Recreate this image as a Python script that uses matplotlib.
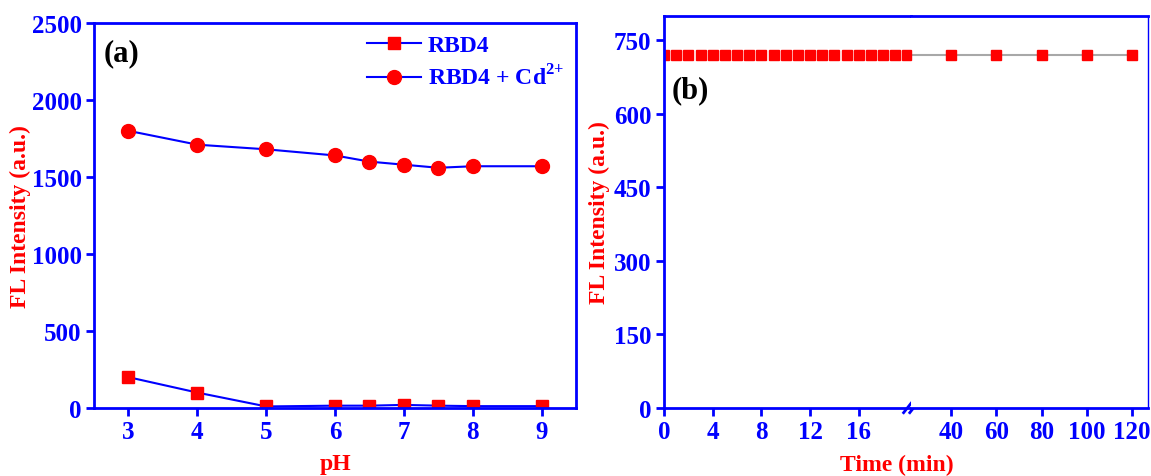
import numpy as np
import matplotlib.pyplot as plt

plt.rcParams['font.family'] = ['Liberation Serif', 'DejaVu Serif']
plt.rcParams['font.weight'] = 'bold'
plt.rcParams['mathtext.fontset'] = 'custom'
plt.rcParams['mathtext.rm'] = 'Liberation Serif:bold'
plt.rcParams['mathtext.bf'] = 'Liberation Serif:bold'

# panel (a) data
ph = [3, 4, 5, 6, 6.5, 7, 7.5, 8, 9]
rbd4 = [200, 100, 10, 15, 15, 20, 15, 12, 12]
rbd4_cd = [1800, 1710, 1680, 1640, 1600, 1580, 1560, 1570, 1570]

# panel (b) data
t_short = list(range(0, 21))
fl_short = [720] * 21
t_long = [20, 40, 60, 80, 100, 120]
fl_long = [720, 720, 720, 720, 720, 720]

yticks_a = [0, 500, 1000, 1500, 2000, 2500]
yticks_b = [0, 150, 300, 450, 600, 750]
xticks_b1 = [0, 4, 8, 12, 16]
xticks_b2 = [40, 60, 80, 100, 120]

BLUE = '#0000ff'
RED = '#ff0000'
FS = 18
LFS = 17


def style(ax):
    for s in ax.spines.values():
        s.set_color(BLUE)
        s.set_linewidth(2)
    ax.tick_params(axis='both', colors=BLUE, direction='out', length=6, width=2,
                   labelsize=FS, top=False, right=False, pad=3)
    for lab in ax.get_xticklabels() + ax.get_yticklabels():
        lab.set_fontweight('bold')


fig = plt.figure(figsize=(11.51, 4.77), dpi=100)

# ---- (a)
ax = fig.add_axes([0.0817, 0.1426, 0.4188, 0.807])
ax.plot(ph, rbd4, color=BLUE, lw=1.5, marker='s', ms=8, mfc=RED, mec=RED, label='RBD4')
ax.plot(ph, rbd4_cd, color=BLUE, lw=1.5, marker='o', ms=10, mfc=RED, mec=RED,
        label='RBD4 + Cd$^{2{+}}$')
ax.set_xlim(2.5, 9.5)
ax.set_ylim(0, 2500)
ax.set_xticks([3, 4, 5, 6, 7, 8, 9])
ax.set_yticks(yticks_a)
style(ax)
ax.set_xlabel('pH', color=RED, fontsize=LFS, fontweight='bold', labelpad=7)
ax.set_ylabel('FL Intensity (a.u.)', color=RED, fontsize=LFS, fontweight='bold')
ax.yaxis.set_label_coords(-0.131, 0.5)
ax.text(0.02, 0.96, '(a)', transform=ax.transAxes, fontsize=22, fontweight='bold',
        va='top', ha='left', color='black')
leg = ax.legend(loc='upper right', frameon=False, fontsize=17, handlelength=2.3,
                borderaxespad=0.1, labelspacing=0.35, handletextpad=0.3)
for txt in leg.get_texts():
    txt.set_color(BLUE)

# ---- (b) broken x axis
b1 = fig.add_axes([0.5769, 0.1426, 0.2146, 0.8218])
b2 = fig.add_axes([0.7915, 0.1426, 0.2059, 0.8218])
b1.plot(t_short, fl_short, ls='none', marker='s', ms=7, mfc=RED, mec=RED)
b2.plot(t_long, fl_long, color='#a8a8a8', lw=1.5, marker='s', ms=7, mfc=RED, mec=RED)
b1.set_xlim(0, 20.3)
b2.set_xlim(22.4, 127)
for b in (b1, b2):
    b.set_ylim(0, 800)
b1.set_yticks(yticks_b)
b1.set_xticks(xticks_b1)
b2.set_xticks(xticks_b2)
style(b1)
style(b2)
b1.spines['right'].set_visible(False)
b2.spines['left'].set_visible(False)
b2.spines['right'].set_linewidth(1)
b2.tick_params(axis='y', left=False, labelleft=False)
b1.set_ylabel('FL Intensity (a.u.)', color=RED, fontsize=LFS, fontweight='bold')
b1.yaxis.set_label_coords(-0.219, 0.5)
fig.text(0.779, 0.003, 'Time (min)', color=RED, fontsize=LFS, fontweight='bold',
         ha='center', va='bottom')
b1.text(0.03, 0.85, '(b)', transform=b1.transAxes, fontsize=22, fontweight='bold',
        va='top', ha='left', color='black')

# break marks
d = 0.015
for x0 in (0.985, 1.01):
    b1.plot([x0 - d, x0 + d], [-0.012, 0.012], transform=b1.transAxes,
            color=BLUE, lw=2, clip_on=False)

fig.savefig('out.png', dpi=100)
